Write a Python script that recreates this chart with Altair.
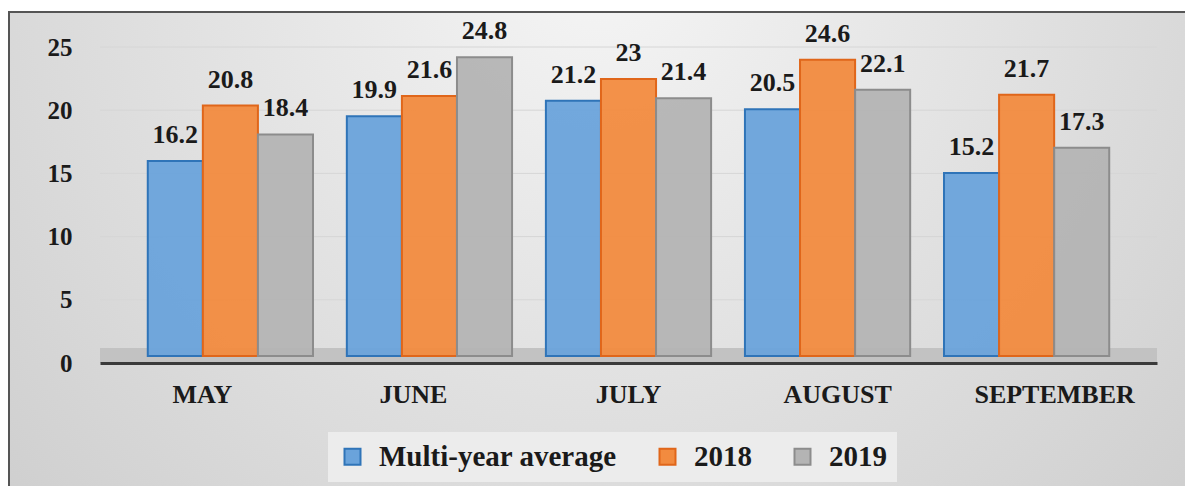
import altair as alt
import pandas as pd

months = ["MAY", "JUNE", "JULY", "AUGUST", "SEPTEMBER"]
series = ["Multi-year average", "2018", "2019"]
avg_vals = [16.2, 19.9, 21.2, 20.5, 15.2]
y2018_vals = [20.8, 21.6, 23, 24.6, 21.7]
y2019_vals = [18.4, 24.8, 21.4, 22.1, 17.3]
y_ticks = [0, 5, 10, 15, 20, 25]

fills = ["#6aa3db", "#f28b3f", "#b4b4b4"]
strokes = ["#2f74b8", "#e0661a", "#8c8c8c"]

rows = []
for s, vals in zip(series, [avg_vals, y2018_vals, y2019_vals]):
    for m, v in zip(months, vals):
        rows.append({"month": m, "series": s, "value": v, "label": f"{v:g}"})
df = pd.DataFrame(rows)

W, H = 1057, 316
SERIF = "'Liberation Serif', 'Times New Roman', 'DejaVu Serif', serif"
BAR_DOMAIN = [-0.58, 25.66]

frame = alt.Chart(pd.DataFrame({"a": [0]})).mark_rect(
    fill={
        "gradient": "radial",
        "x1": 0.5, "y1": 0.25, "x2": 0.5, "y2": 0.25,
        "r1": 0, "r2": 0.75,
        "stops": [{"offset": 0, "color": "#f5f5f5"}, {"offset": 1, "color": "#cbcbcb"}],
    },
    stroke="#555555",
    strokeWidth=2,
).encode(
    x=alt.value(-91), x2=alt.value(W + 33),
    y=alt.value(-35), y2=alt.value(H + 140),
)

floor = alt.Chart(pd.DataFrame({"a": [0]})).mark_rect(color="#c2c2c2").encode(
    x=alt.value(0), x2=alt.value(W), y=alt.value(H - 15), y2=alt.value(H),
)

grid = alt.Chart(pd.DataFrame({"t": y_ticks})).mark_rule(
    color="#d6d6d6", strokeWidth=1
).encode(
    y=alt.Y(
        "t:Q", title=None, scale=alt.Scale(domain=[0, 25], nice=False),
        axis=alt.Axis(
            orient="left", values=y_ticks, labelFont=SERIF, labelFontWeight="bold",
            labelFontSize=25, labelColor="#1a1a1a", labelPadding=28, ticks=False,
            domain=False, grid=False, zindex=1,
        ),
    ),
    opacity=alt.condition("datum.t > 0", alt.value(1), alt.value(0)),
)

offsets = {"MAY": -28, "JUNE": -16, "JULY": 0, "AUGUST": 10, "SEPTEMBER": 28}
label_offset = {
    "condition": [{"test": f"datum.value === '{m}'", "value": o} for m, o in offsets.items()],
    "value": 0,
}

xenc = alt.X(
    "month:N", sort=months, title=None,
    scale=alt.Scale(paddingInner=0.17, paddingOuter=0.24),
    axis=alt.Axis(
        labelAngle=0, labelFont=SERIF, labelFontWeight="bold", labelFontSize=26,
        labelColor="#1a1a1a", labelPadding=18, ticks=False, domainColor="#3a3a3a",
        domainWidth=3, zindex=1, labelOffset=label_offset,
    ),
)
yenc = alt.Y("value:Q", title=None, scale=alt.Scale(domain=BAR_DOMAIN, nice=False, zero=False), axis=None)
color = alt.Color(
    "series:N", sort=series, title=None,
    scale=alt.Scale(domain=series, range=fills),
    legend=alt.Legend(
        orient="none", legendX=228, legendY=385, direction="horizontal",
        symbolType="square", symbolSize=256, symbolStrokeWidth=2,
        labelFont=SERIF, labelFontWeight="bold", labelFontSize=29, labelColor="#1a1a1a",
        columnPadding=36, labelOffset=12, fillColor="#ececec", padding=10,
        labelLimit=400,
    ),
)
stroke = alt.Stroke("series:N", sort=series, scale=alt.Scale(domain=series, range=strokes), legend=None)

bars = alt.Chart(df).mark_bar(strokeWidth=2, fillOpacity=0.95).encode(
    x=xenc, y=yenc, y2=alt.datum(0), color=color, stroke=stroke,
    xOffset=alt.XOffset("series:N", sort=series, scale=alt.Scale(paddingInner=0)),
)

labels = alt.Chart(df).mark_text(
    font=SERIF, fontWeight="bold", fontSize=26, color="#1a1a1a", dy=-18, baseline="alphabetic"
).encode(
    x=alt.X("month:N", sort=months),
    xOffset=alt.XOffset("series:N", sort=series),
    y=alt.Y("value:Q"),
    text="label:N",
)

chart = alt.layer(frame, floor, grid, alt.layer(bars, labels)).resolve_scale(
    y="independent"
).properties(
    width=W, height=H,
    autosize=alt.AutoSizeParams(type="none"),
    padding={"left": 92, "top": 39, "right": 28, "bottom": 123},
    background="white",
).configure_view(stroke=None)

chart.save("out.html", embed_options={"renderer": "svg", "actions": False})
